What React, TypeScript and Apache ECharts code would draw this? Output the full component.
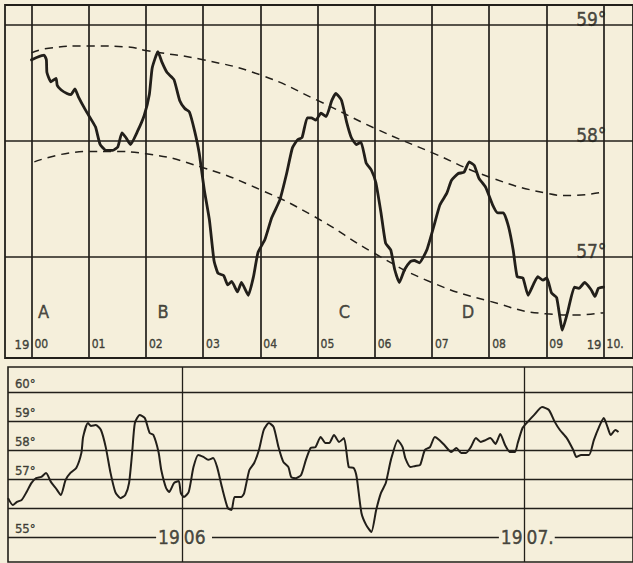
import React, { useEffect, useRef } from "react";
import * as echarts from "echarts";

// ---------- data ----------
const topYears = [1900, 1901, 1902, 1903, 1904, 1905, 1906, 1907, 1908, 1909, 1910];
const topTempLines = [57, 58, 59];
const topDegreeLabels = ["57°", "58°", "59°"];
const phaseLetters = ["A", "B", "C", "D"];
const phaseYears = [1900.21, 1902.3, 1905.47, 1907.63];

const topCurve: [number, number][] = [
  [1900.0, 58.7], [1900.09, 58.72], [1900.22, 58.74], [1900.26, 58.7], [1900.27, 58.59], [1900.34, 58.51],
  [1900.43, 58.54], [1900.45, 58.48], [1900.52, 58.44], [1900.62, 58.41], [1900.69, 58.4], [1900.76, 58.45],
  [1900.82, 58.38], [1900.94, 58.27], [1901.05, 58.18], [1901.12, 58.12], [1901.2, 57.97], [1901.3, 57.92],
  [1901.42, 57.92], [1901.51, 57.95], [1901.58, 58.07], [1901.65, 58.03], [1901.73, 57.97], [1901.85, 58.08],
  [1901.97, 58.22], [1902.06, 58.4], [1902.11, 58.63], [1902.21, 58.77], [1902.28, 58.68], [1902.37, 58.59],
  [1902.49, 58.53], [1902.59, 58.35], [1902.68, 58.28], [1902.76, 58.25], [1902.85, 58.09], [1902.93, 57.9],
  [1903.02, 57.58], [1903.11, 57.32], [1903.19, 56.97], [1903.26, 56.86], [1903.36, 56.84], [1903.43, 56.76],
  [1903.5, 56.79], [1903.6, 56.7], [1903.67, 56.78], [1903.79, 56.67], [1903.88, 56.83], [1903.96, 57.04],
  [1904.08, 57.15], [1904.2, 57.34], [1904.34, 57.49], [1904.46, 57.72], [1904.56, 57.94], [1904.65, 58.01],
  [1904.73, 58.03], [1904.82, 58.2], [1904.89, 58.2], [1904.97, 58.18], [1905.06, 58.24], [1905.15, 58.21],
  [1905.25, 58.35], [1905.32, 58.41], [1905.42, 58.35], [1905.51, 58.16], [1905.59, 58.03], [1905.68, 57.97],
  [1905.76, 57.99], [1905.85, 57.81], [1905.94, 57.75], [1906.02, 57.64], [1906.11, 57.38], [1906.19, 57.12],
  [1906.28, 57.06], [1906.35, 56.89], [1906.43, 56.78], [1906.52, 56.89], [1906.62, 56.96], [1906.69, 56.97],
  [1906.78, 56.95], [1906.91, 57.06], [1907.03, 57.26], [1907.14, 57.45], [1907.26, 57.55], [1907.34, 57.66],
  [1907.46, 57.72], [1907.56, 57.73], [1907.65, 57.82], [1907.74, 57.79], [1907.82, 57.68], [1907.94, 57.6],
  [1908.06, 57.45], [1908.15, 57.38], [1908.25, 57.38], [1908.34, 57.26], [1908.42, 57.06], [1908.49, 56.83],
  [1908.59, 56.82], [1908.68, 56.67], [1908.77, 56.76], [1908.85, 56.83], [1908.94, 56.8], [1909.01, 56.82],
  [1909.09, 56.69], [1909.18, 56.65], [1909.28, 56.37], [1909.37, 56.52], [1909.49, 56.74], [1909.57, 56.73],
  [1909.67, 56.78], [1909.78, 56.72], [1909.85, 56.66], [1909.91, 56.73], [1910.0, 56.74],
];

const upperEnvelope: [number, number][] = [
  [1900.0, 58.76], [1900.3, 58.8], [1901.0, 58.82], [1901.7, 58.81], [1902.0, 58.78], [1903.0, 58.7],
  [1904.0, 58.57], [1905.0, 58.35], [1906.0, 58.11], [1907.0, 57.9], [1908.0, 57.69], [1909.0, 57.55],
  [1909.4, 57.53], [1910.0, 57.56],
];

const lowerEnvelope: [number, number][] = [
  [1900.05, 57.82], [1901.0, 57.91], [1901.4, 57.91], [1902.0, 57.89], [1903.0, 57.77], [1904.0, 57.58],
  [1904.94, 57.35], [1906.0, 57.03], [1907.0, 56.78], [1908.0, 56.62], [1909.0, 56.51], [1909.5, 56.5],
  [1910.0, 56.52],
];

const bottomYears = [1906, 1907];
const bottomYearSuffix = ["06", "07."];
const bottomTempLines = [56, 57, 58, 59, 60];
const bottomBaseLine = 55;
const bottomDegreeLabels = ["60°", "59°", "58°", "57°", "55°"];
const bottomDegreeValues = [60, 59, 58, 57, 55];

const bottomCurve: [number, number][] = [
  [1905.493, 56.34], [1905.507, 56.1], [1905.519, 56.21], [1905.533, 56.28], [1905.547, 56.55], [1905.561, 56.86],
  [1905.575, 57.03], [1905.59, 57.07], [1905.604, 57.21], [1905.618, 56.9], [1905.632, 56.69], [1905.647, 56.45],
  [1905.661, 56.97], [1905.675, 57.21], [1905.692, 57.38], [1905.707, 57.9], [1905.712, 58.45], [1905.726, 58.93],
  [1905.735, 58.83], [1905.749, 58.86], [1905.764, 58.69], [1905.778, 58.1], [1905.792, 57.21], [1905.806, 56.55],
  [1905.821, 56.34], [1905.835, 56.45], [1905.846, 56.86], [1905.855, 57.9], [1905.863, 58.93], [1905.877, 59.21],
  [1905.892, 59.1], [1905.906, 58.59], [1905.917, 58.52], [1905.932, 57.93], [1905.94, 57.31], [1905.954, 56.69],
  [1905.963, 56.55], [1905.977, 56.86], [1905.991, 56.93], [1905.997, 56.52], [1906.006, 56.38], [1906.02, 56.55],
  [1906.034, 57.41], [1906.048, 57.83], [1906.063, 57.76], [1906.077, 57.66], [1906.091, 57.72], [1906.103, 57.41],
  [1906.117, 56.72], [1906.134, 56.0], [1906.145, 55.93], [1906.154, 56.38], [1906.174, 56.38], [1906.182, 56.52],
  [1906.197, 57.31], [1906.211, 57.55], [1906.225, 58.0], [1906.239, 58.69], [1906.254, 58.93], [1906.268, 58.79],
  [1906.282, 58.1], [1906.296, 57.59], [1906.311, 57.41], [1906.319, 57.07], [1906.333, 57.03], [1906.348, 57.14],
  [1906.362, 57.66], [1906.376, 58.07], [1906.39, 58.1], [1906.405, 58.45], [1906.419, 58.24], [1906.43, 58.24],
  [1906.444, 58.52], [1906.459, 58.28], [1906.473, 58.41], [1906.487, 57.41], [1906.501, 57.38], [1906.51, 57.07],
  [1906.524, 55.83], [1906.538, 55.41], [1906.553, 55.17], [1906.567, 55.93], [1906.581, 56.52], [1906.595, 56.86],
  [1906.61, 57.66], [1906.63, 58.34], [1906.644, 58.1], [1906.652, 57.72], [1906.667, 57.41], [1906.681, 57.45],
  [1906.695, 57.48], [1906.709, 58.0], [1906.724, 58.1], [1906.738, 58.45], [1906.752, 58.34], [1906.766, 58.17],
  [1906.786, 57.93], [1906.801, 58.07], [1906.815, 57.9], [1906.829, 57.9], [1906.843, 58.1], [1906.858, 58.41],
  [1906.872, 58.28], [1906.886, 58.34], [1906.9, 58.41], [1906.915, 58.21], [1906.929, 58.55], [1906.943, 58.17],
  [1906.957, 57.93], [1906.972, 57.93], [1906.98, 58.24], [1906.994, 58.76], [1907.009, 58.97], [1907.028, 59.21],
  [1907.051, 59.48], [1907.071, 59.38], [1907.088, 58.97], [1907.103, 58.69], [1907.123, 58.41], [1907.142, 58.0],
  [1907.151, 57.76], [1907.165, 57.83], [1907.188, 57.83], [1907.202, 58.34], [1907.217, 58.79], [1907.231, 59.1],
  [1907.242, 58.79], [1907.251, 58.52], [1907.265, 58.69], [1907.274, 58.62],
];

// ---------- styling / layout ----------
const INK = "#221f1a";
const PAPER = "#f5efdb";
const HAND = '"DejaVu Sans Condensed", "Liberation Sans Narrow", "DejaVu Sans", sans-serif';

// top panel scale: 1900 at x=32, 58.3 px / year; 59° at y=25, 116 px / degree
const TOP_LEFT = 5, TOP_TOP = 5, TOP_H = 353, GRID_W = 640;
const TOP_PXY = 58.3, TOP_PXV = 116;
const TOP_XMIN = 1900 - (32 - TOP_LEFT) / TOP_PXY;
const TOP_XMAX = TOP_XMIN + GRID_W / TOP_PXY;
const TOP_YMAX = 59 + (25 - TOP_TOP) / TOP_PXV;
const TOP_YMIN = TOP_YMAX - TOP_H / TOP_PXV;

// bottom panel scale: 1906 at x=186, 351 px / year; 60° at y=392, 29 px / degree
const BOT_LEFT = 8, BOT_TOP = 367, BOT_H = 195;
const BOT_PXY = 351, BOT_PXV = 29;
const BOT_XMIN = 1906 - (186 - BOT_LEFT) / BOT_PXY;
const BOT_XMAX = BOT_XMIN + GRID_W / BOT_PXY;
const BOT_YMAX = 60 + (392 - BOT_TOP) / BOT_PXV;
const BOT_YMIN = BOT_YMAX - BOT_H / BOT_PXV;

const hiddenAxis = { show: false, splitLine: { show: false } };

export default function App() {
  const ref = useRef<HTMLDivElement>(null);

  useEffect(() => {
    if (!ref.current) return;
    const chart = echarts.init(ref.current, null, { renderer: "svg" });

    const YEAR_ROW = 56.25;
    const LETTER_ROW = 56.53;
    const topLabelData: any[] = [];
    topYears.forEach((yr, i) => {
      topLabelData.push({
        name: i === 10 ? "10." : String(i).padStart(2, "0"),
        value: [yr, YEAR_ROW],
        label: { align: "left", offset: [3, 0], fontSize: 12 },
      });
    });
    [topYears[0], topYears[topYears.length - 1]].forEach((yr) =>
      topLabelData.push({
        name: "19",
        value: [yr, YEAR_ROW],
        label: { align: "right", offset: [-2, 0], fontSize: 13 },
      })
    );
    phaseLetters.forEach((l, i) =>
      topLabelData.push({
        name: l,
        value: [phaseYears[i], LETTER_ROW],
        label: { align: "center", fontSize: 18 },
      })
    );
    topDegreeLabels.forEach((l, i) =>
      topLabelData.push({
        name: l,
        value: [1910.05, topTempLines[i] + 0.05],
        label: { align: "right", fontSize: 19 },
      })
    );

    const bottomLabelData: any[] = [];
    bottomDegreeLabels.forEach((l, i) =>
      bottomLabelData.push({
        name: l,
        value: [1905.513, bottomDegreeValues[i] + 0.3],
        label: { align: "left", fontSize: 13 },
      })
    );
    bottomYears.forEach((yr, i) => {
      bottomLabelData.push({
        name: "19",
        value: [yr, bottomBaseLine],
        label: { align: "right", offset: [-2, 0], fontSize: 19 },
      });
      bottomLabelData.push({
        name: bottomYearSuffix[i],
        value: [yr, bottomBaseLine],
        label: { align: "left", offset: [2, 0], fontSize: 19 },
      });
    });

    // the 55° line is broken where the year is written across it
    const gapL = 0.075, gapR = 0.088;
    const baseSegments: any[] = [];
    let from = BOT_XMIN;
    bottomYears.forEach((yr) => {
      baseSegments.push([{ coord: [from, bottomBaseLine] }, { coord: [yr - gapL, bottomBaseLine] }]);
      from = yr + gapR;
    });
    baseSegments.push([{ coord: [from, bottomBaseLine] }, { coord: [BOT_XMAX, bottomBaseLine] }]);

    const gridLine = (data: any[], width: number) => ({
      silent: true,
      symbol: ["none", "none"],
      label: { show: false },
      lineStyle: { color: INK, width, type: "solid", opacity: 1 },
      emphasis: { disabled: true },
      data,
    });

    const labelSeries = (data: any[], xi: number) => ({
      type: "scatter",
      xAxisIndex: xi,
      yAxisIndex: xi,
      symbolSize: 1,
      itemStyle: { color: "rgba(0,0,0,0)" },
      silent: true,
      z: 5,
      label: {
        show: true,
        position: "inside",
        formatter: "{b}",
        color: INK,
        fontFamily: HAND,
        verticalAlign: "middle",
        textBorderColor: INK,
        textBorderWidth: 0.4,
      },
      data,
    });

    chart.setOption({
      animation: false,
      backgroundColor: PAPER,
      grid: [
        {
          left: TOP_LEFT, top: TOP_TOP, width: GRID_W, height: TOP_H,
          show: true, borderColor: INK, borderWidth: 1.8, backgroundColor: "transparent",
        },
        {
          left: BOT_LEFT, top: BOT_TOP, width: GRID_W, height: BOT_H,
          show: true, borderColor: INK, borderWidth: 1.6, backgroundColor: "transparent",
        },
      ],
      xAxis: [
        { ...hiddenAxis, type: "value", gridIndex: 0, min: TOP_XMIN, max: TOP_XMAX },
        { ...hiddenAxis, type: "value", gridIndex: 1, min: BOT_XMIN, max: BOT_XMAX },
      ],
      yAxis: [
        { ...hiddenAxis, type: "value", gridIndex: 0, min: TOP_YMIN, max: TOP_YMAX },
        { ...hiddenAxis, type: "value", gridIndex: 1, min: BOT_YMIN, max: BOT_YMAX },
      ],
      series: [
        {
          type: "line",
          name: "upper",
          xAxisIndex: 0, yAxisIndex: 0,
          data: upperEnvelope,
          smooth: 0.5,
          showSymbol: false,
          silent: true,
          lineStyle: { color: INK, width: 1.5, type: [8, 6] },
          markLine: gridLine(
            [
              ...topYears.map((y) => ({ xAxis: y })),
              ...topTempLines.map((v) => ({ yAxis: v })),
            ],
            1.7
          ),
        },
        {
          type: "line",
          name: "lower",
          xAxisIndex: 0, yAxisIndex: 0,
          data: lowerEnvelope,
          smooth: 0.5,
          showSymbol: false,
          silent: true,
          lineStyle: { color: INK, width: 1.5, type: [8, 6] },
        },
        {
          type: "line",
          name: "annual",
          xAxisIndex: 0, yAxisIndex: 0,
          data: topCurve,
          smooth: 0.15,
          showSymbol: false,
          silent: true,
          z: 4,
          lineStyle: { color: INK, width: 2.8, join: "round", cap: "round" },
        },
        {
          type: "line",
          name: "monthly",
          xAxisIndex: 1, yAxisIndex: 1,
          data: bottomCurve,
          smooth: 0.2,
          showSymbol: false,
          silent: true,
          z: 4,
          lineStyle: { color: INK, width: 2, join: "round" },
          markLine: gridLine(
            [
              ...bottomYears.map((y) => ({ xAxis: y })),
              ...bottomTempLines.map((v) => ({ yAxis: v })),
              ...baseSegments,
            ],
            1.3
          ),
        },
        labelSeries(topLabelData, 0),
        labelSeries(bottomLabelData, 1),
      ],
    });

    return () => chart.dispose();
  }, []);

  return (
    <div
      ref={ref}
      style={{ position: "fixed", left: 0, top: 0, width: 633, height: 563, background: PAPER }}
    />
  );
}
